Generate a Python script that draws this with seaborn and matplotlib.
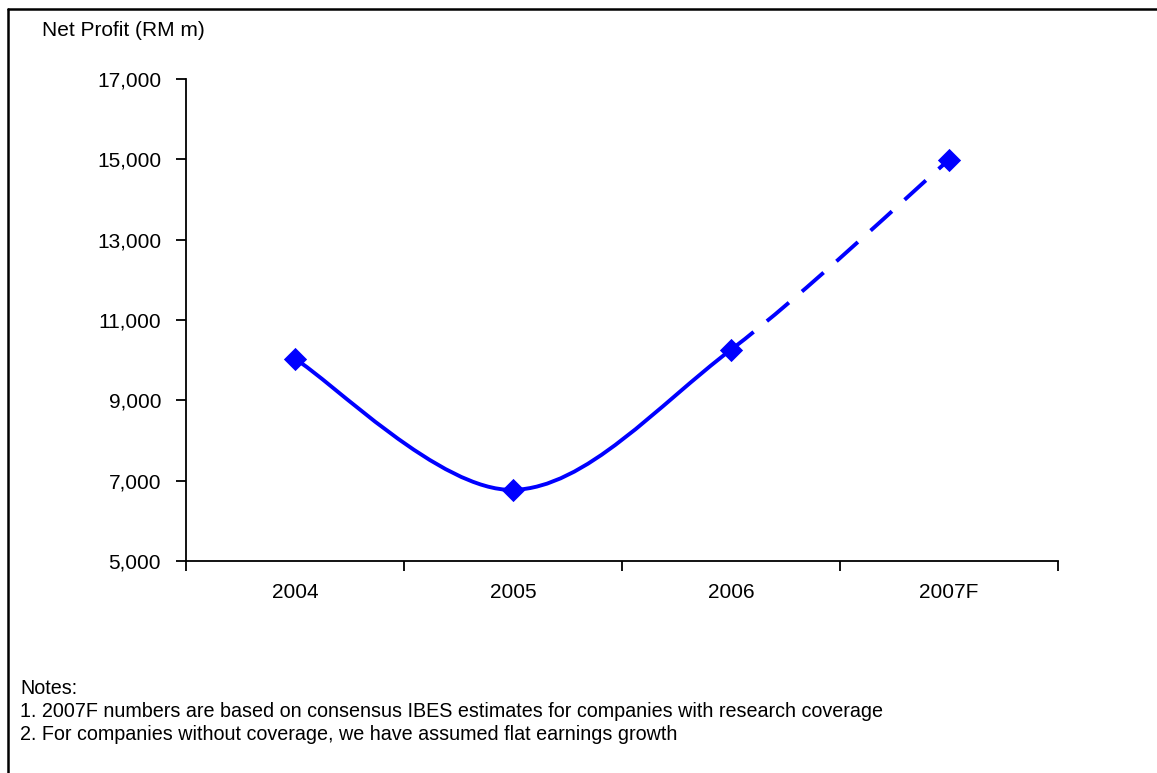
import matplotlib
matplotlib.use("Agg")
import matplotlib.pyplot as plt
import seaborn as sns
import pandas as pd
from matplotlib.path import Path
from matplotlib.patches import PathPatch
from matplotlib.lines import Line2D
from matplotlib.ticker import FuncFormatter

# data
years = ["2004", "2005", "2006", "2007F"]
net_profit = [10030, 6770, 10260, 14990]
y_ticks = [5000, 7000, 9000, 11000, 13000, 15000, 17000]
notes = [
    "Notes:",
    "1. 2007F numbers are based on consensus IBES estimates for companies with research coverage",
    "2. For companies without coverage, we have assumed flat earnings growth",
]

sns.set_theme(style="white")
plt.rcParams["font.family"] = ["Liberation Sans", "DejaVu Sans"]
plt.rcParams["text.color"] = "black"

BLUE = "#0000FF"
df = pd.DataFrame({"Year": years, "Profit": net_profit})

fig = plt.figure(figsize=(11.57, 7.73), dpi=100)
ax = fig.add_axes([0.1608, 0.2743, 0.9144 - 0.1608, 0.8978 - 0.2743])


# smoothed (catmull-rom style) bezier segments, like excel's smoothed line
def smooth_segment(pts, i):
    p0 = pts[max(i - 1, 0)]
    p1 = pts[i]
    p2 = pts[i + 1]
    p3 = pts[min(i + 2, len(pts) - 1)]
    c1 = (p1[0] + (p2[0] - p0[0]) / 6, p1[1] + (p2[1] - p0[1]) / 6)
    c2 = (p2[0] - (p3[0] - p1[0]) / 6, p2[1] - (p3[1] - p1[1]) / 6)
    return [p1, c1, c2, p2]


pts = list(zip(range(len(years)), net_profit))
solid_verts = []
solid_codes = []
for i in range(2):
    seg = smooth_segment(pts, i)
    if i == 0:
        solid_verts += seg
        solid_codes += [Path.MOVETO, Path.CURVE4, Path.CURVE4, Path.CURVE4]
    else:
        solid_verts += seg[1:]
        solid_codes += [Path.CURVE4, Path.CURVE4, Path.CURVE4]
ax.add_patch(PathPatch(Path(solid_verts, solid_codes), fill=False, edgecolor=BLUE,
                       linewidth=2.8, capstyle="butt", zorder=2))

dash_seg = smooth_segment(pts, 2)
ax.add_patch(PathPatch(Path(dash_seg, [Path.MOVETO, Path.CURVE4, Path.CURVE4, Path.CURVE4]),
                       fill=False, edgecolor=BLUE, linewidth=2.8,
                       linestyle=(0, (7.4, 4.4)), capstyle="butt", zorder=2))

sns.scatterplot(data=df, x="Year", y="Profit", marker="D", s=140, color=BLUE,
                edgecolor=BLUE, linewidth=0, ax=ax, zorder=3)

ax.set_xlim(-0.5, 3.5)
ax.set_ylim(5000, 17000)
ax.set_yticks(y_ticks)
ax.yaxis.set_major_formatter(FuncFormatter(lambda v, p: f"{int(v):,}"))
ax.set_xticks(range(len(years)))
ax.set_xticklabels(years)
ax.set_xticks([-0.5, 0.5, 1.5, 2.5, 3.5], minor=True)
ax.set_xlabel("")
ax.set_ylabel("")

for s in ["top", "right"]:
    ax.spines[s].set_visible(False)
for s in ["left", "bottom"]:
    ax.spines[s].set_color("black")
    ax.spines[s].set_linewidth(1.3)

ax.tick_params(axis="y", which="major", direction="out", length=7, width=1.3,
               color="black", left=True, pad=11, labelsize=15, labelcolor="black")
ax.tick_params(axis="x", which="major", length=0, pad=16, labelsize=15, labelcolor="black")
ax.tick_params(axis="x", which="minor", direction="out", length=7, width=1.3,
               color="black", bottom=True)

fig.text(42 / 1157, 1 - 30 / 773, "Net Profit (RM m)", fontsize=15, ha="left", va="center",
         color="black")

for i, line in enumerate(notes):
    fig.text(20 / 1157, 1 - (688 + i * 23.5) / 773, line, fontsize=14.2, ha="left", va="center",
             color="black")

# page frame (top and left only)
fig.add_artist(Line2D([8 / 1157, 1.0], [1 - 9 / 773, 1 - 9 / 773], transform=fig.transFigure,
                      color="black", linewidth=1.8))
fig.add_artist(Line2D([8 / 1157, 8 / 1157], [0.0, 1 - 9 / 773], transform=fig.transFigure,
                      color="black", linewidth=1.8))

fig.savefig("out.png", dpi=100, facecolor="white")
